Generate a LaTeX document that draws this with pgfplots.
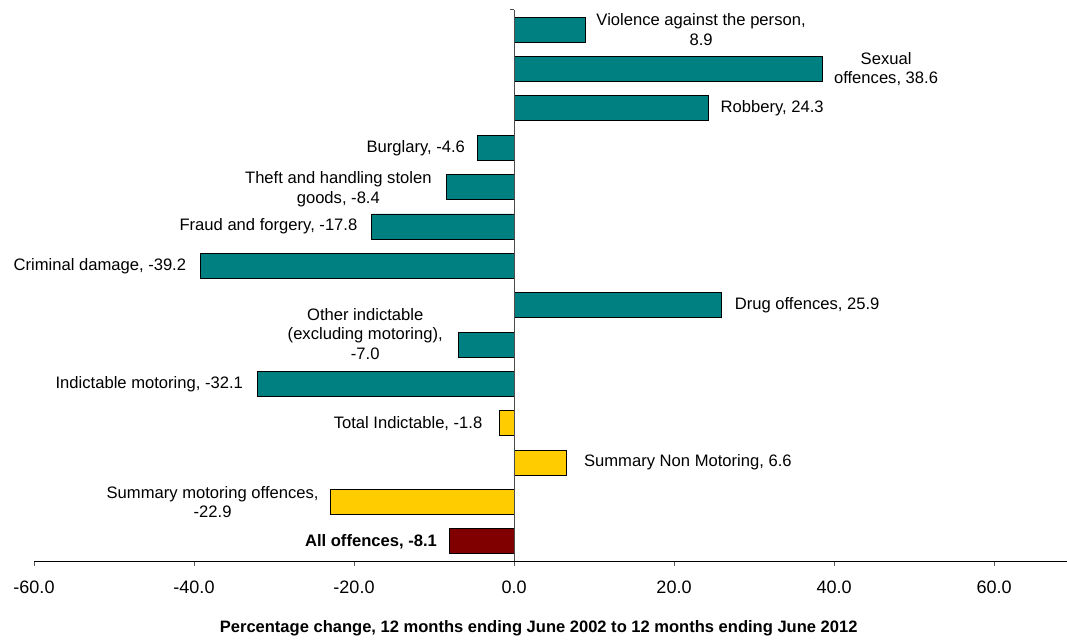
\documentclass[border=0pt]{standalone}
\usepackage{pgfplots}
\pgfplotsset{compat=1.18}
\usepackage{pgfplotstable}
\usepackage{fontspec}
\setmainfont{Liberation Sans}
\definecolor{barteal}{HTML}{008080}
\definecolor{baryellow}{HTML}{FFCC00}
\definecolor{barred}{HTML}{800000}

\pgfplotstableread{
y x
0 8.9
1 38.6
2 24.3
3 -4.6
4 -8.4
5 -17.8
6 -39.2
7 25.9
8 -7.0
9 -32.1
}\tealdata
\pgfplotstableread{
y x
10 -1.8
11 6.6
12 -22.9
}\yellowdata
\pgfplotstableread{
y x
13 -8.1
}\reddata

\tikzset{lbl/.style={font=\fontsize{12.45pt}{14.6pt}\selectfont, align=center, inner sep=0pt}}

\begin{document}
\begin{tikzpicture}
\useasboundingbox (0,0) rectangle (800.25pt,480.75pt);
\begin{axis}[
  at={(25.5pt,60pt)}, anchor=south west,
  scale only axis, width=774.75pt, height=413.25pt,
  xmin=-60, xmax=69.125, ymin=-0.5, ymax=13.5, y dir=reverse,
  axis x line=bottom, axis y line=none,
  axis line style={-, black, line width=0.75pt},
  xtick={-60,-40,-20,0,20,40,60},
  xticklabels={-60.0,-40.0,-20.0,0.0,20.0,40.0,60.0},
  xtick align=outside, major tick length=3.75pt,
  x tick style={gray!70!black, line width=0.75pt},
  xticklabel style={font=\fontsize{13.5pt}{16pt}\selectfont, yshift=-8pt},
  ytick=\empty,
  xbar, bar width=18.75pt, bar shift=0pt,
  clip=false,
]
\addplot[draw=black, line width=0.6pt, fill=barteal] table[x=x,y=y] {\tealdata};
\addplot[draw=black, line width=0.6pt, fill=baryellow] table[x=x,y=y] {\yellowdata};
\addplot[draw=black, line width=0.6pt, fill=barred] table[x=x,y=y] {\reddata};
\draw[gray!60!black, line width=0.75pt] (axis cs:0,-0.5) -- (axis cs:0,13.5);
\draw[gray!60!black, line width=0.75pt] ([xshift=-3pt]axis cs:0,-0.5) -- (axis cs:0,-0.5);

\node[lbl, anchor=west, xshift=8.25pt] at (axis cs:8.9,0) {Violence against the person,\\8.9};
\node[lbl, anchor=west, xshift=8.25pt] at (axis cs:38.6,1) {Sexual\\offences, 38.6};
\node[lbl, anchor=west, xshift=9pt] at (axis cs:24.3,2) {Robbery, 24.3};
\node[lbl, anchor=east, xshift=-9pt] at (axis cs:-4.6,3) {Burglary, -4.6};
\node[lbl, anchor=east, xshift=-11.25pt, yshift=-1.5pt] at (axis cs:-8.4,4) {Theft and handling stolen\\goods, -8.4};
\node[lbl, anchor=east, xshift=-10.5pt] at (axis cs:-17.8,5) {Fraud and forgery, -17.8};
\node[lbl, anchor=east, xshift=-10.5pt] at (axis cs:-39.2,6) {Criminal damage, -39.2};
\node[lbl, anchor=west, xshift=10pt] at (axis cs:25.9,7) {Drug offences, 25.9};
\node[lbl, anchor=east, xshift=-11.25pt, yshift=7.9pt] at (axis cs:-7.0,8) {Other indictable\\(excluding motoring),\\-7.0};
\node[lbl, anchor=east, xshift=-10.5pt] at (axis cs:-32.1,9) {Indictable motoring, -32.1};
\node[lbl, anchor=east, xshift=-12.75pt] at (axis cs:-1.8,10) {Total Indictable, -1.8};
\node[lbl, anchor=west, xshift=12.75pt] at (axis cs:6.6,11) {Summary Non Motoring, 6.6};
\node[lbl, anchor=east, xshift=-9pt] at (axis cs:-22.9,12) {Summary motoring offences,\\-22.9};
\node[lbl, anchor=east, xshift=-9pt, font=\fontsize{12.45pt}{14.6pt}\selectfont\bfseries] at (axis cs:-8.1,13) {All offences, -8.1};
\end{axis}
\node[font=\fontsize{12.4pt}{14.6pt}\selectfont\bfseries, inner sep=0pt] at (404pt,9.75pt) {Percentage change, 12 months ending June 2002 to 12 months ending June 2012};
\end{tikzpicture}
\end{document}
